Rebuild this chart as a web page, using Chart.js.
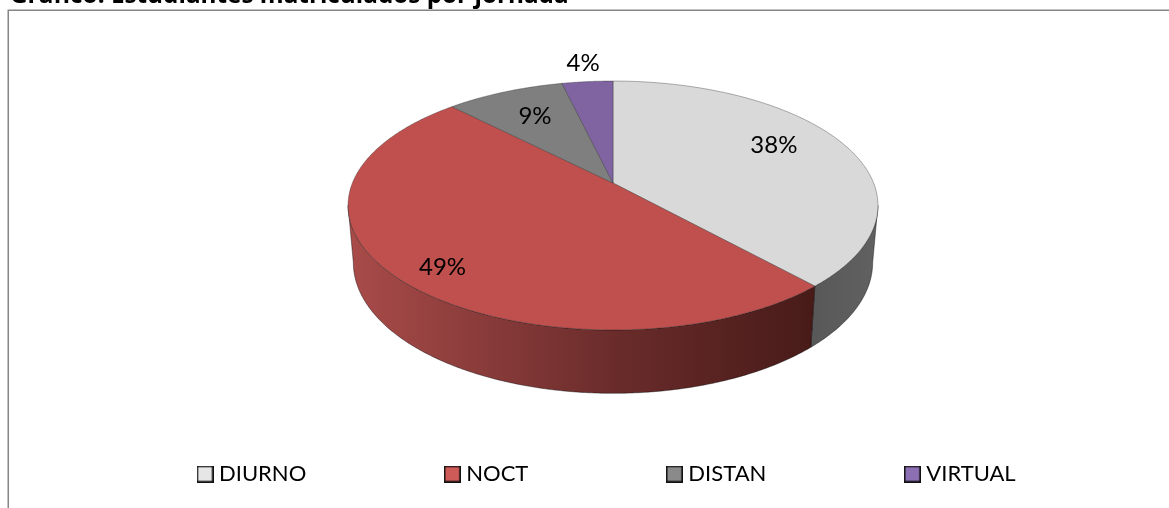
<!DOCTYPE html>
<html><head><meta charset="utf-8">
<style>html,body{margin:0;padding:0;background:#fff;overflow:hidden}canvas{display:block}</style>
<script src="https://cdn.jsdelivr.net/npm/chart.js@4"></script>
</head><body>
<div style="width:1169px;height:508px"><canvas id="c" width="1169" height="508"></canvas></div>
<script>
const titleText = 'Gráfico: Estudiantes matriculados por jornada';
const categories = ['DIURNO','NOCT','DISTAN','VIRTUAL'];
const values = [38.3, 49.4, 8.6, 3.7];
const topColors = ['#D9D9D9','#C0504D','#7F7F7F','#8064A2'];
const legendColors = ['#E6E6E6','#CF5B58','#8A8A8A','#8D6FB3'];
const wallStops = [['#5F5F5F','#585858'],['#A84B49','#481B19'],['#4A4A4A','#4A4A4A'],['#50406A','#50406A']];

// projection of the pie (perspective circle -> ellipse)
const G = {cx:613, cy:183, R:260.6, S:120.4, k:0.1807, wallKx:0.98, wallKy:1.05, wallD:56};
const WALL_FROM = Math.acos(-G.k), WALL_TO = 2*Math.PI - WALL_FROM;
function proj(theta, f){
  f = f === undefined ? 1 : f;
  const u = f*Math.sin(theta), v = -f*Math.cos(theta), w = 1 - G.k*v;
  return {x:G.R*u/w, y:G.S*v/w};
}
function topPt(t,f){const p=proj(t,f);return {x:G.cx+p.x,y:G.cy+p.y};}
function botPt(t){const p=proj(t);return {x:G.cx+p.x*G.wallKx,y:G.cy+p.y*G.wallKy+G.wallD};}

// library arc elements keep their angles; only the projection of the drawing changes
Chart.ArcElement.prototype.draw = function(ctx){
  const i = this.$context ? this.$context.dataIndex : 0;
  const a0 = this.startAngle + Math.PI/2, a1 = this.endAngle + Math.PI/2;
  const STEP = 0.01;
  // wall
  const w0 = Math.max(a0, WALL_FROM), w1 = Math.min(a1, WALL_TO);
  if (w1 > w0){
    ctx.save();
    ctx.beginPath();
    let p = topPt(w0); ctx.moveTo(p.x,p.y);
    for(let t=w0;t<w1;t+=STEP){p=topPt(t);ctx.lineTo(p.x,p.y);}
    p=topPt(w1);ctx.lineTo(p.x,p.y);
    for(let t=w1;t>w0;t-=STEP){p=botPt(t);ctx.lineTo(p.x,p.y);}
    p=botPt(w0);ctx.lineTo(p.x,p.y);
    ctx.closePath();
    const g = ctx.createLinearGradient(352,0,811,0);
    g.addColorStop(0,wallStops[i][0]);
    if(i===1){g.addColorStop(0.57,'#6A2C2B');}
    g.addColorStop(1,wallStops[i][1]);
    if(i===0){
      const g0 = ctx.createLinearGradient(811,0,878,0);
      g0.addColorStop(0,'#585858');g0.addColorStop(1,'#616161');
      ctx.fillStyle=g0;
    } else ctx.fillStyle=g;
    ctx.fill();
    ctx.strokeStyle='rgba(0,0,0,0.5)';ctx.lineWidth=0.8;ctx.stroke();
    ctx.restore();
  }
  // top face
  ctx.save();
  ctx.beginPath();
  ctx.moveTo(G.cx,G.cy);
  for(let t=a0;t<a1;t+=STEP){const p=topPt(t);ctx.lineTo(p.x,p.y);}
  const e=topPt(a1);ctx.lineTo(e.x,e.y);
  ctx.closePath();
  ctx.fillStyle=this.options.backgroundColor;
  ctx.fill();
  ctx.strokeStyle='rgba(40,40,40,0.45)';ctx.lineWidth=0.8;ctx.lineJoin='round';ctx.stroke();
  ctx.restore();
};

function swatch(color){
  const c=document.createElement('canvas');c.width=17;c.height=17;
  const x=c.getContext('2d');
  x.fillStyle=color;x.fillRect(0,0,17,17);
  x.strokeStyle='#111';x.lineWidth=1.6;x.strokeRect(0.8,0.8,15.4,15.4);
  return c;
}
const swatches = legendColors.map(swatch);

const labelFrac = [0.7,0.85,0.65,1.2];
const labelNudge = [[-2,-9],[10,6],[-4,-5],[0,-2]];

const frame = {
  id:'frame',
  afterLayout(chart){
    chart.titleBlock.top=-18.4; chart.titleBlock.bottom=chart.titleBlock.top+chart.titleBlock.height;
    chart.titleBlock.left=10;
    chart.legend.left=59;
    chart.legend.right=1500;
    chart.legend.top=320;
  },
  beforeDraw(chart){
    const c=chart.ctx;c.save();
    c.strokeStyle='#868686';c.lineWidth=1.5;
    c.strokeRect(8.25,10.25,1400,800);
    c.restore();
  },
  afterDatasetsDraw(chart){
    const c=chart.ctx, meta=chart.getDatasetMeta(0);
    const sum=values.reduce((a,b)=>a+b,0);
    c.save();
    c.font='24px Lato';c.fillStyle='#000';c.textAlign='center';c.textBaseline='middle';
    meta.data.forEach((arc,i)=>{
      const mid=(arc.startAngle+arc.endAngle)/2+Math.PI/2;
      const p=topPt(mid,labelFrac[i]);
      c.fillText(Math.round(values[i]/sum*100)+'%',p.x+labelNudge[i][0],p.y+labelNudge[i][1]);
    });
    c.restore();
  }
};

new Chart(document.getElementById('c'),{
  type:'pie',
  data:{labels:categories,datasets:[{data:values,backgroundColor:topColors,borderWidth:0,clip:false}]},
  plugins:[frame],
  options:{
    responsive:false,animation:false,
    plugins:{
      tooltip:{enabled:false},
      title:{display:true,text:titleText,align:'start',color:'#000',padding:0,font:{family:'"Open Sans"',size:24.3,weight:'bold'}},
      legend:{
        display:true,position:'bottom',align:'start',
        labels:{
          color:'#000',font:{family:'Lato',size:22},padding:143,
          usePointStyle:true,pointStyleWidth:6,
          generateLabels(chart){
            const base=Chart.overrides.pie.plugins.legend.labels.generateLabels(chart);
            return base.map((l,i)=>Object.assign(l,{pointStyle:swatches[i]}));
          }
        }
      }
    }
  }
});
</script>
</body></html>
